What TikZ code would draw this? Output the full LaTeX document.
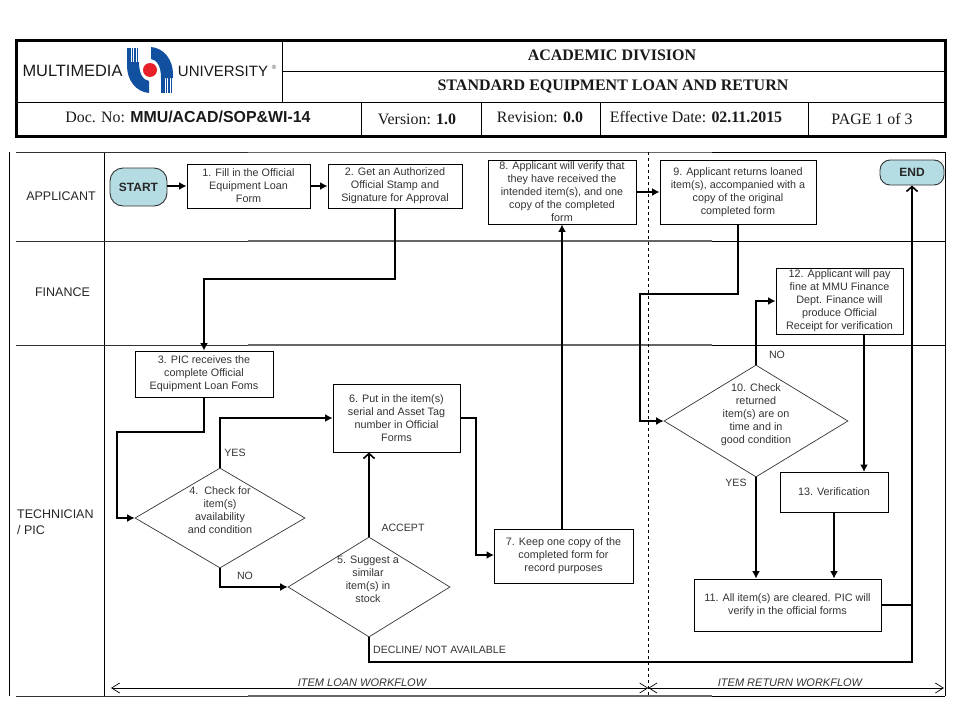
\documentclass[tikz,border=0pt]{standalone}
\usepackage{fontspec}
\setmainfont{Liberation Sans}
\newfontfamily\serifface{Liberation Serif}
\usetikzlibrary{shapes.geometric,arrows.meta}
\definecolor{teal1}{HTML}{B4DCE2}
\definecolor{lineg}{HTML}{333333}
\definecolor{logob}{HTML}{11509F}
\definecolor{logor}{HTML}{E8202A}
\tikzset{
 x=1pt,y=-1pt,
 stepbox/.style={draw=black,line width=0.9pt,align=center,inner sep=0pt,font=\fontsize{10.8}{13}\selectfont,text=black!80},
 term/.style={draw=black!80,line width=0.9pt,rounded corners=10pt,fill=teal1,inner sep=0pt,font=\fontsize{12}{14}\bfseries\selectfont,text=black!85},
 decide/.style={diamond,draw=black!80,line width=0.7pt,inner sep=0pt,aspect=1.7},
 txt/.style={align=center,inner sep=0pt,font=\fontsize{10.8}{13}\selectfont,text=black!80},
 lane/.style={inner sep=0pt,align=left,font=\fontsize{12.5}{16}\selectfont,text=black!85},
 small/.style={inner sep=0pt,font=\fontsize{10.6}{12}\selectfont,text=black!80},
 wf/.style={inner sep=0pt,font=\fontsize{11}{12}\itshape\selectfont,text=black!80},
 head/.style={inner sep=0pt,font=\fontsize{15.9}{18}\serifface\selectfont,text=black!90},
 flow/.style={line width=2.4pt,-{Latex[length=7.5pt,width=8pt]},draw=black},
 flowo/.style={line width=2.4pt,-{Straight Barb[length=5pt,width=11pt,line width=1.6pt]},draw=black},
 span/.style={line width=0.7pt,{Straight Barb[length=8pt,width=10pt,line width=0.7pt]}-{Straight Barb[length=8pt,width=10pt,line width=0.7pt]}},
}
\begin{document}
\begin{tikzpicture}
\useasboundingbox (0,0) rectangle (960,720);
% header
\draw[line width=0.9pt] (282,40) -- (282,102);
\draw[line width=0.9pt] (282,71) -- (945,71);
\draw[line width=0.9pt] (16,102) -- (945,102);
\draw[line width=0.9pt] (361,102) -- (361,136);
\draw[line width=0.9pt] (481,102) -- (481,136);
\draw[line width=0.9pt] (600,102) -- (600,136);
\draw[line width=0.9pt] (808,102) -- (808,136);
\draw[line width=3pt] (16,40) rectangle (945,136);
\node[inner sep=0pt,font=\fontsize{16.4}{18}\selectfont,text=black!90] (lg1) at (72.5,71) {MULTIMEDIA};
\node[inner sep=0pt,font=\fontsize{15}{18}\selectfont,text=black!90] (lg2) at (223,71) {UNIVERSITY};
\node[inner sep=0pt,font=\fontsize{6}{7}\selectfont,text=black!70] (lg3) at (274,67) {®};
\fill[logob] (127,62) -- (139,62) .. controls (139,74) and (143,80) .. (149,81) -- (149,93) .. controls (136,92) and (127,80) .. (127,66) -- cycle;
\fill[logob] (173,78) -- (161,78) .. controls (161,66) and (157,60) .. (151,59) -- (151,47) .. controls (164,48) and (173,60) .. (173,74) -- cycle;
\foreach \q in {127,129.4,131.8,134.2,136.6} \fill[logob] (\q,48) rectangle (\q+1.6,63);
\foreach \q in {161,163.4,165.8,168.2,170.6} \fill[logob] (\q,77) rectangle (\q+1.6,93);
\fill[logor] (150,70) circle (7);
\node[head,font=\fontsize{16}{18}\serifface\bfseries\selectfont] (h1) at (612,55) {ACADEMIC DIVISION};
\node[head,font=\fontsize{16}{18}\serifface\bfseries\selectfont] (h2) at (613,86) {STANDARD EQUIPMENT LOAN AND RETURN};
\node[head] (h3) at (188,117) {Doc. No: {\fontspec{Liberation Sans}\bfseries MMU/ACAD/SOP\&WI-14}};
\node[head] (h4) at (417,119) {Version: \textbf{1.0}};
\node[head] (h5) at (540,117) {Revision: \textbf{0.0}};
\node[head] (h6) at (696,117) {Effective Date: \textbf{02.11.2015}};
\node[head] (h7) at (872,119) {PAGE 1 of 3};
% lanes
\draw[line width=0.8pt] (9.5,152) -- (9.5,696);
\draw[line width=0.8pt] (104.5,152) -- (104.5,696);
\draw[line width=0.8pt] (945,152) -- (945,696);
\foreach \yy in {152.5,241,345,696} {
 \draw[line width=0.8pt,draw=lineg] (16,\yy) -- (248,\yy);
 \draw[line width=1.3pt,draw=black!60] (248,\yy) -- (712,\yy);
 \draw[line width=0.8pt,draw=black] (712,\yy) -- (945,\yy);
}
\node[lane] (l1) at (61,196) {APPLICANT};
\node[lane] (l2) at (62.5,292) {FINANCE};
\node[lane,anchor=north west] (l3) at (17,510) {TECHNICIAN\\/ PIC};
% nodes
\node[term,minimum width=57pt,minimum height=38pt,rounded corners=13pt] (start) at (138.5,187) {START};
\node[term,minimum width=64pt,minimum height=25pt] (finish) at (912,172.5) {END};
\node[stepbox,minimum width=123pt,minimum height=44pt] (n1) at (248.5,186) {1. Fill in the Official\\Equipment Loan\\Form};
\node[stepbox,minimum width=134pt,minimum height=44pt] (n2) at (395,186) {2. Get an Authorized\\Official Stamp and\\Signature for Approval};
\node[stepbox,minimum width=138pt,minimum height=46pt] (n3) at (204,374) {3. PIC receives the\\complete Official\\Equipment Loan Foms};
\node[stepbox,minimum width=127pt,minimum height=68pt] (n6) at (396.5,418) {6. Put in the item(s)\\serial and Asset Tag\\number in Official\\Forms};
\node[stepbox,minimum width=139pt,minimum height=54pt] (n7) at (563.5,556) {7. Keep one copy of the\\completed form for\\record purposes};
\node[stepbox,minimum width=148pt,minimum height=64pt] (n8) at (562,192) {8. Applicant will verify that\\they have received the\\intended item(s), and one\\copy of the completed\\form};
\node[stepbox,minimum width=156pt,minimum height=64pt] (n9) at (738,192) {9. Applicant returns loaned\\item(s), accompanied with a\\copy of the original\\completed form};
\node[stepbox,minimum width=127pt,minimum height=66pt] (n12) at (839.5,301) {12. Applicant will pay\\fine at MMU Finance\\Dept. Finance will\\produce Official\\Receipt for verification};
\node[stepbox,minimum width=108pt,minimum height=40pt] (n13) at (834,492) {13. Verification};
\node[stepbox,minimum width=187pt,minimum height=52pt] (n11) at (787.5,605) {11. All item(s) are cleared. PIC will\\verify in the official forms};
\node[decide,minimum width=170pt,minimum height=100pt] (d4) at (220,518) {};
\node[decide,minimum width=162pt,minimum height=100pt] (d5) at (369,587) {};
\node[decide,minimum width=184pt,minimum height=112pt] (d10) at (756,421) {};
\node[txt] (t4) at (220,509.7) {4.\ \ Check for\\item(s)\\availability\\and condition};
\node[txt] (t5) at (368,579.5) {5. Suggest a\\similar\\item(s) in\\stock};
\node[txt] (t10) at (756,414.5) {10. Check\\returned\\item(s) are on\\time and in\\good condition};
% labels
\node[small] (y4) at (235,453) {YES};
\node[small] (n4) at (245,576) {NO};
\node[small] (a5) at (403,528) {ACCEPT};
\node[small,anchor=west] (d5l) at (373,650) {DECLINE/ NOT AVAILABLE};
\node[small] (n10) at (777,355) {NO};
\node[small] (y10) at (736,483) {YES};
% bends
\coordinate (c23a) at (395,279);
\coordinate (c23b) at (204,279);
\coordinate (c34a) at (204,432);
\coordinate (c34b) at (117,432);
\coordinate (c67) at (476,418);
\coordinate (c67b) at (476,555);
\coordinate (n7w) at (494,555);
\coordinate (c910a) at (738,294);
\coordinate (c910b) at (640,294);
\coordinate (c910c) at (640,421);
\coordinate (c1012) at (756,301);
\coordinate (c1213a) at (864,334);
\coordinate (c1213b) at (864,472);
\coordinate (c5e) at (912,662);
% connectors
\draw[flow] (start.east |- n1.west) -- (n1.west);
\draw[flow] (n1.east) -- (n2.west);
\draw[flow] (n2.south) -- (c23a) -- (c23b) -- (n3.north);
\draw[flow] (n3.south) -- (c34a) -- (c34b) |- (d4.west);
\draw[flow] (d4.north) |- (n6.west);
\draw[flow] (d4.south) |- (d5.west);
\draw[flowo] (d5.north) -- (d5.north |- n6.south);
\draw[flow] (n6.east) -- (c67) -- (c67b) -- (n7w);
\draw[flow] (n7.north -| n8.south) -- (n8.south);
\draw[flow] (n8.east) -- (n9.west);
\draw[flow] (n9.south) -- (c910a) -- (c910b) -- (c910c) -- (d10.west);
\draw[flow] (d10.north) -- (c1012) -- (n12.west);
\draw[flow] (c1213a) -- (c1213b);
\draw[flow] (d10.south) -- (d10.south |- n11.north);
\draw[flow] (n13.south) -- (n13.south |- n11.north);
\draw[line width=2.4pt] (n11.east) -- (n11.east -| finish.south);
\draw[flowo] (d5.south) |- (c5e) -- (finish.south);
% workflow
\draw[line width=0.8pt,dashed] (648.3,152) -- (648.3,696);
\coordinate (s1) at (111,688);
\coordinate (s2) at (648.3,688);
\coordinate (s3) at (944,688);
\draw[span] (s1) -- (s2);
\draw[span] (s2) -- (s3);
\node[wf] (w1) at (362,682.5) {ITEM LOAN WORKFLOW};
\node[wf] (w2) at (790,682.5) {ITEM RETURN WORKFLOW};
\end{tikzpicture}
\end{document}
